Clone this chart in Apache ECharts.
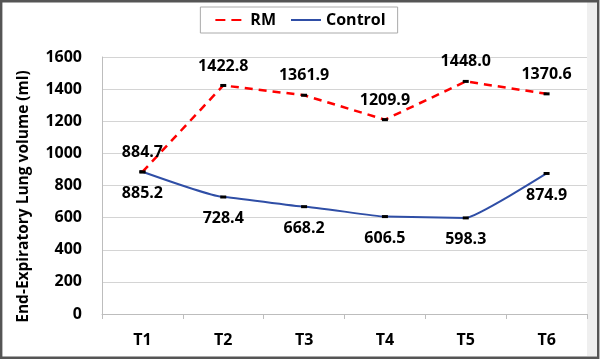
<!DOCTYPE html>
<html>
<head>
<meta charset="utf-8">
<script src="https://cdn.jsdelivr.net/npm/echarts@6/dist/echarts.min.js"></script>
<style>
html,body{margin:0;padding:0;background:#fff;}
#c{width:600px;height:361px;}
</style>
</head>
<body>
<div id="c"></div>
<script>
var categories = ['T1', 'T2', 'T3', 'T4', 'T5', 'T6'];
var rmValues = [884.7, 1422.8, 1361.9, 1209.9, 1448.0, 1370.6];
var controlValues = [885.2, 728.4, 668.2, 606.5, 598.3, 874.9];
var yTicks = [0, 200, 400, 600, 800, 1000, 1200, 1400, 1600];

var FONT = '"Open Sans"';
var chart = echarts.init(document.getElementById('c'), null, {renderer: 'canvas'});
var labelStyle = {
  show: true, color: '#000', fontFamily: FONT, fontWeight: 'bold', fontSize: 16,
  formatter: function (p) { return p.value.toFixed(1); }
};
chart.setOption({
  animation: false,
  backgroundColor: '#fff',
  graphic: [
    {type: 'rect', shape: {x: 587, y: 2, width: 10, height: 354}, style: {fill: '#efefef'}, silent: true, z: -10},
    {type: 'rect', shape: {x: 1.2, y: 1.2, width: 597, height: 356.5}, style: {fill: null, stroke: '#555', lineWidth: 2.4}, silent: true, z: 100}
  ],
  legend: {
    data: [
      {name: 'RM', itemStyle: {opacity: 0}, lineStyle: {type: [10, 6]}},
      {name: 'Control', itemStyle: {opacity: 0}}
    ],
    top: 7, left: 'center',
    itemWidth: 30, itemHeight: 12, itemGap: 14,
    padding: [5, 12, 5, 14],
    borderColor: '#aaa', borderWidth: 1,
    textStyle: {color: '#000', fontFamily: FONT, fontWeight: 'bold', fontSize: 16}
  },
  grid: {left: 102, right: 13, top: 57, bottom: 47, containLabel: false},
  xAxis: {
    type: 'category', data: categories, boundaryGap: true,
    axisLine: {lineStyle: {color: '#bdbdbd', width: 1}},
    axisTick: {show: true, length: 5, lineStyle: {color: '#bdbdbd'}},
    axisLabel: {color: '#000', fontFamily: FONT, fontWeight: 'bold', fontSize: 16, margin: 18}
  },
  yAxis: {
    type: 'value', min: yTicks[0], max: yTicks[yTicks.length - 1], interval: 200,
    name: 'End-Expiratory Lung volume (ml)', nameLocation: 'middle', nameGap: 70,
    nameTextStyle: {color: '#000', fontFamily: FONT, fontWeight: 'bold', fontSize: 15.5, padding: [0, 22, 0, 0]},
    axisLine: {show: true, lineStyle: {color: '#bdbdbd', width: 1}},
    axisTick: {show: false},
    splitLine: {lineStyle: {color: '#d4d4d4', width: 1}},
    axisLabel: {color: '#000', fontFamily: FONT, fontWeight: 'bold', fontSize: 16, margin: 20,
      formatter: function (v) { return String(v); }}
  },
  series: [
    {
      name: 'RM', type: 'line', data: rmValues,
      symbol: 'rect', symbolSize: [6, 3], showAllSymbol: true,
      itemStyle: {color: '#000'},
      lineStyle: {color: '#ff0000', width: 2.5, type: [8, 6]},
      label: Object.assign({position: 'top', distance: 10}, labelStyle),
      z: 3
    },
    {
      name: 'Control', type: 'line', data: controlValues, smooth: 0.12, smoothMonotone: 'x',
      symbol: 'rect', symbolSize: [6, 3], showAllSymbol: true,
      itemStyle: {color: '#000'},
      lineStyle: {color: '#2f4ea6', width: 2},
      label: Object.assign({position: 'bottom', distance: 12}, labelStyle),
      z: 2
    }
  ]
});
</script>
</body>
</html>
